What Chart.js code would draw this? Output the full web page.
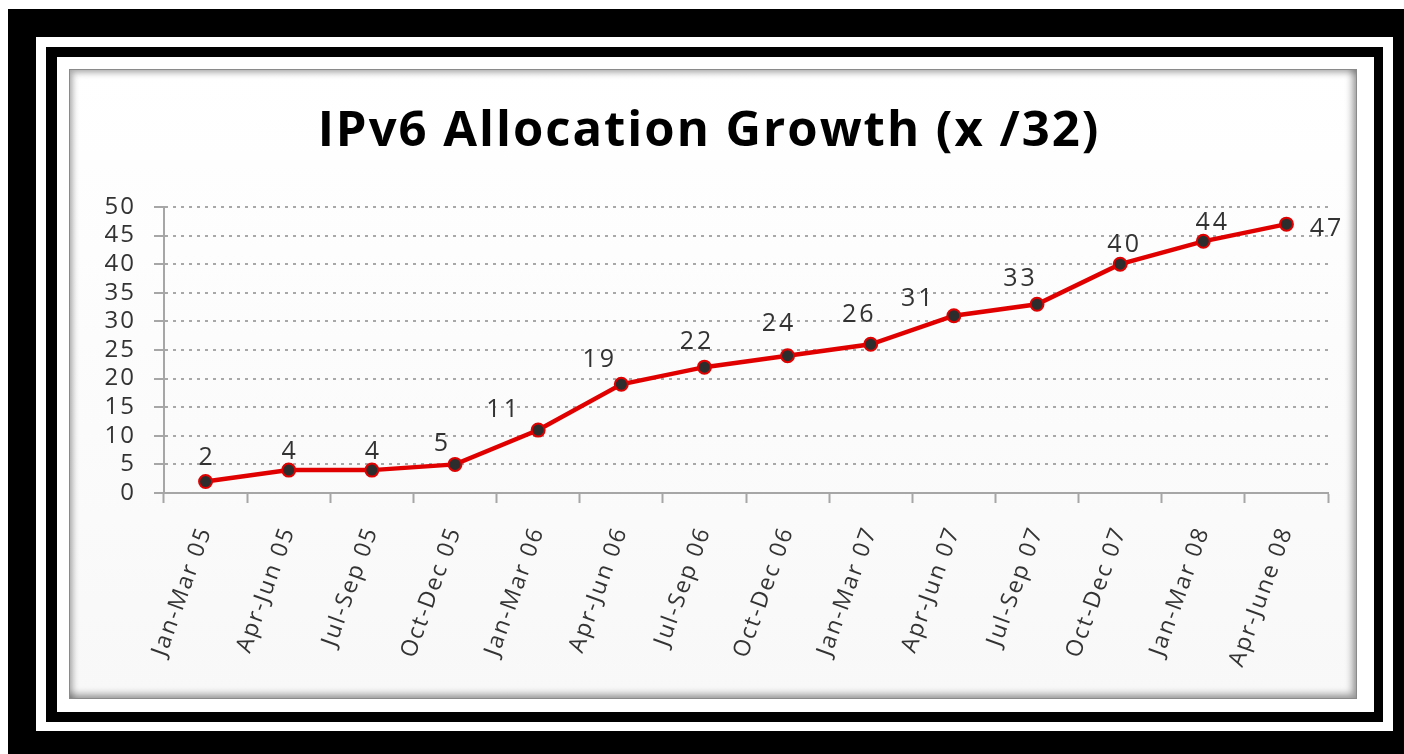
<!DOCTYPE html>
<html lang="en">
<head>
    <meta charset="UTF-8">
    <title>IPv6 Allocation Growth</title>
    <script src="https://cdn.jsdelivr.net/npm/chart.js"></script>
    <style>
        html, body {
            margin: 0;
            padding: 0;
            width: 1404px;
            height: 754px;
            background: #fff;
            overflow: hidden;
            font-family: "Open Sans", sans-serif;
        }
        .frame {
            position: absolute;
        }
        .outer { left: 8px; top: 9px; right: 0; bottom: 0; background: #000; }
        .white1 { left: 36px; top: 37px; width: 1357px; height: 694px; background: #fff; }
        .black2 { left: 46px; top: 47px; width: 1337px; height: 675px; background: #000; }
        .white2 { left: 57px; top: 57px; width: 1317px; height: 655px; background: #fff; }
        .panel {
            left: 69px;
            top: 69px;
            width: 1288px;
            height: 630px;
            box-sizing: border-box;
            border: 1px solid #8a8a8a;
            background: linear-gradient(#ffffff, #f8f8f8);
            box-shadow: inset 3px 3px 6px rgba(0,0,0,0.3), inset -4px -4px 7px rgba(0,0,0,0.35);
        }
        #chart {
            position: absolute;
            left: 0;
            top: 0;
        }
    </style>
</head>
<body>
    <div class="frame outer"></div>
    <div class="frame white1"></div>
    <div class="frame black2"></div>
    <div class="frame white2"></div>
    <div class="frame panel"></div>
    <canvas id="chart" width="1404" height="754"></canvas>

    <script>
        // data
        const quarters = ['Jan-Mar 05', 'Apr-Jun 05', 'Jul-Sep 05', 'Oct-Dec 05',
                          'Jan-Mar 06', 'Apr-Jun 06', 'Jul-Sep 06', 'Oct-Dec 06',
                          'Jan-Mar 07', 'Apr-Jun 07', 'Jul-Sep 07', 'Oct-Dec 07',
                          'Jan-Mar 08', 'Apr-June 08'];
        const allocations = [2, 4, 4, 5, 11, 19, 22, 24, 26, 31, 33, 40, 44, 47];
        const yTicks = [0, 5, 10, 15, 20, 25, 30, 35, 40, 45, 50];

        // where each value label sits relative to its point (px)
        const labelShiftX = [0, 0, 0, -14, -36, -23, -9, -10, -13, -37, -18, 3, 8, 39];
        const labelShiftY = [-24, -18, -18, -21, -20, -24, -25, -32, -29, -17, -25, -19, -18, 5];

        const FONT = '"Open Sans", sans-serif';
        const SPACING = '2px';

        const spacing = {
            id: 'spacing',
            beforeLayout(chart) { chart.ctx.letterSpacing = SPACING; },
            beforeDraw(chart) { chart.ctx.letterSpacing = SPACING; }
        };

        const valueLabels = {
            id: 'valueLabels',
            afterDatasetsDraw(chart) {
                const ctx = chart.ctx;
                const meta = chart.getDatasetMeta(0);
                ctx.save();
                ctx.letterSpacing = '3px';
                ctx.font = '25px ' + FONT;
                ctx.fillStyle = '#333';
                ctx.textAlign = 'center';
                ctx.textBaseline = 'middle';
                meta.data.forEach((pt, i) => {
                    ctx.fillText(String(allocations[i]), pt.x + labelShiftX[i] + 1.5, pt.y + labelShiftY[i]);
                });
                ctx.restore();
            }
        };

        new Chart(document.getElementById('chart'), {
            type: 'line',
            data: {
                labels: quarters,
                datasets: [{
                    data: allocations,
                    borderColor: '#e00000',
                    borderWidth: 4.5,
                    tension: 0,
                    pointRadius: 6.5,
                    pointBackgroundColor: '#2d2d2d',
                    pointBorderColor: '#e00000',
                    pointBorderWidth: 2,
                    clip: false
                }]
            },
            options: {
                responsive: false,
                animation: false,
                layout: { padding: { left: 90, right: 76, top: 70, bottom: 54 } },
                plugins: {
                    legend: { display: false },
                    tooltip: { enabled: false },
                    title: {
                        display: true,
                        text: 'IPv6 Allocation Growth (x /32)',
                        color: '#000',
                        font: { family: FONT, size: 49, weight: 'bold', lineHeight: 1.2 },
                        padding: { top: 33, bottom: 45.2 }
                    }
                },
                scales: {
                    x: {
                        offset: true,
                        grid: {
                            display: true,
                            offset: true,
                            drawOnChartArea: false,
                            drawTicks: true,
                            tickLength: 10,
                            tickColor: '#a6a6a6',
                            tickWidth: 2
                        },
                        border: { display: true, color: '#a6a6a6', width: 2 },
                        ticks: {
                            autoSkip: false,
                            minRotation: 70,
                            maxRotation: 70,
                            padding: 20,
                            color: '#333',
                            font: { family: FONT, size: 23 }
                        },
                        afterFit(scale) { scale.height = 207; }
                    },
                    y: {
                        min: 0,
                        max: 50,
                        afterBuildTicks(scale) {
                            scale.ticks = yTicks.map(v => ({ value: v }));
                        },
                        grid: {
                            color: '#a8a8a8',
                            lineWidth: 2,
                            drawTicks: true,
                            tickLength: 10,
                            tickColor: '#a6a6a6',
                            tickWidth: 2
                        },
                        border: { display: true, color: '#a6a6a6', width: 2, dash: [3, 5] },
                        ticks: {
                            autoSkip: false,
                            padding: 18,
                            color: '#333',
                            font: { family: FONT, size: 24 }
                        },
                        afterFit(scale) { scale.width = 74; }
                    }
                }
            },
            plugins: [spacing, valueLabels]
        });
    </script>
</body>
</html>
